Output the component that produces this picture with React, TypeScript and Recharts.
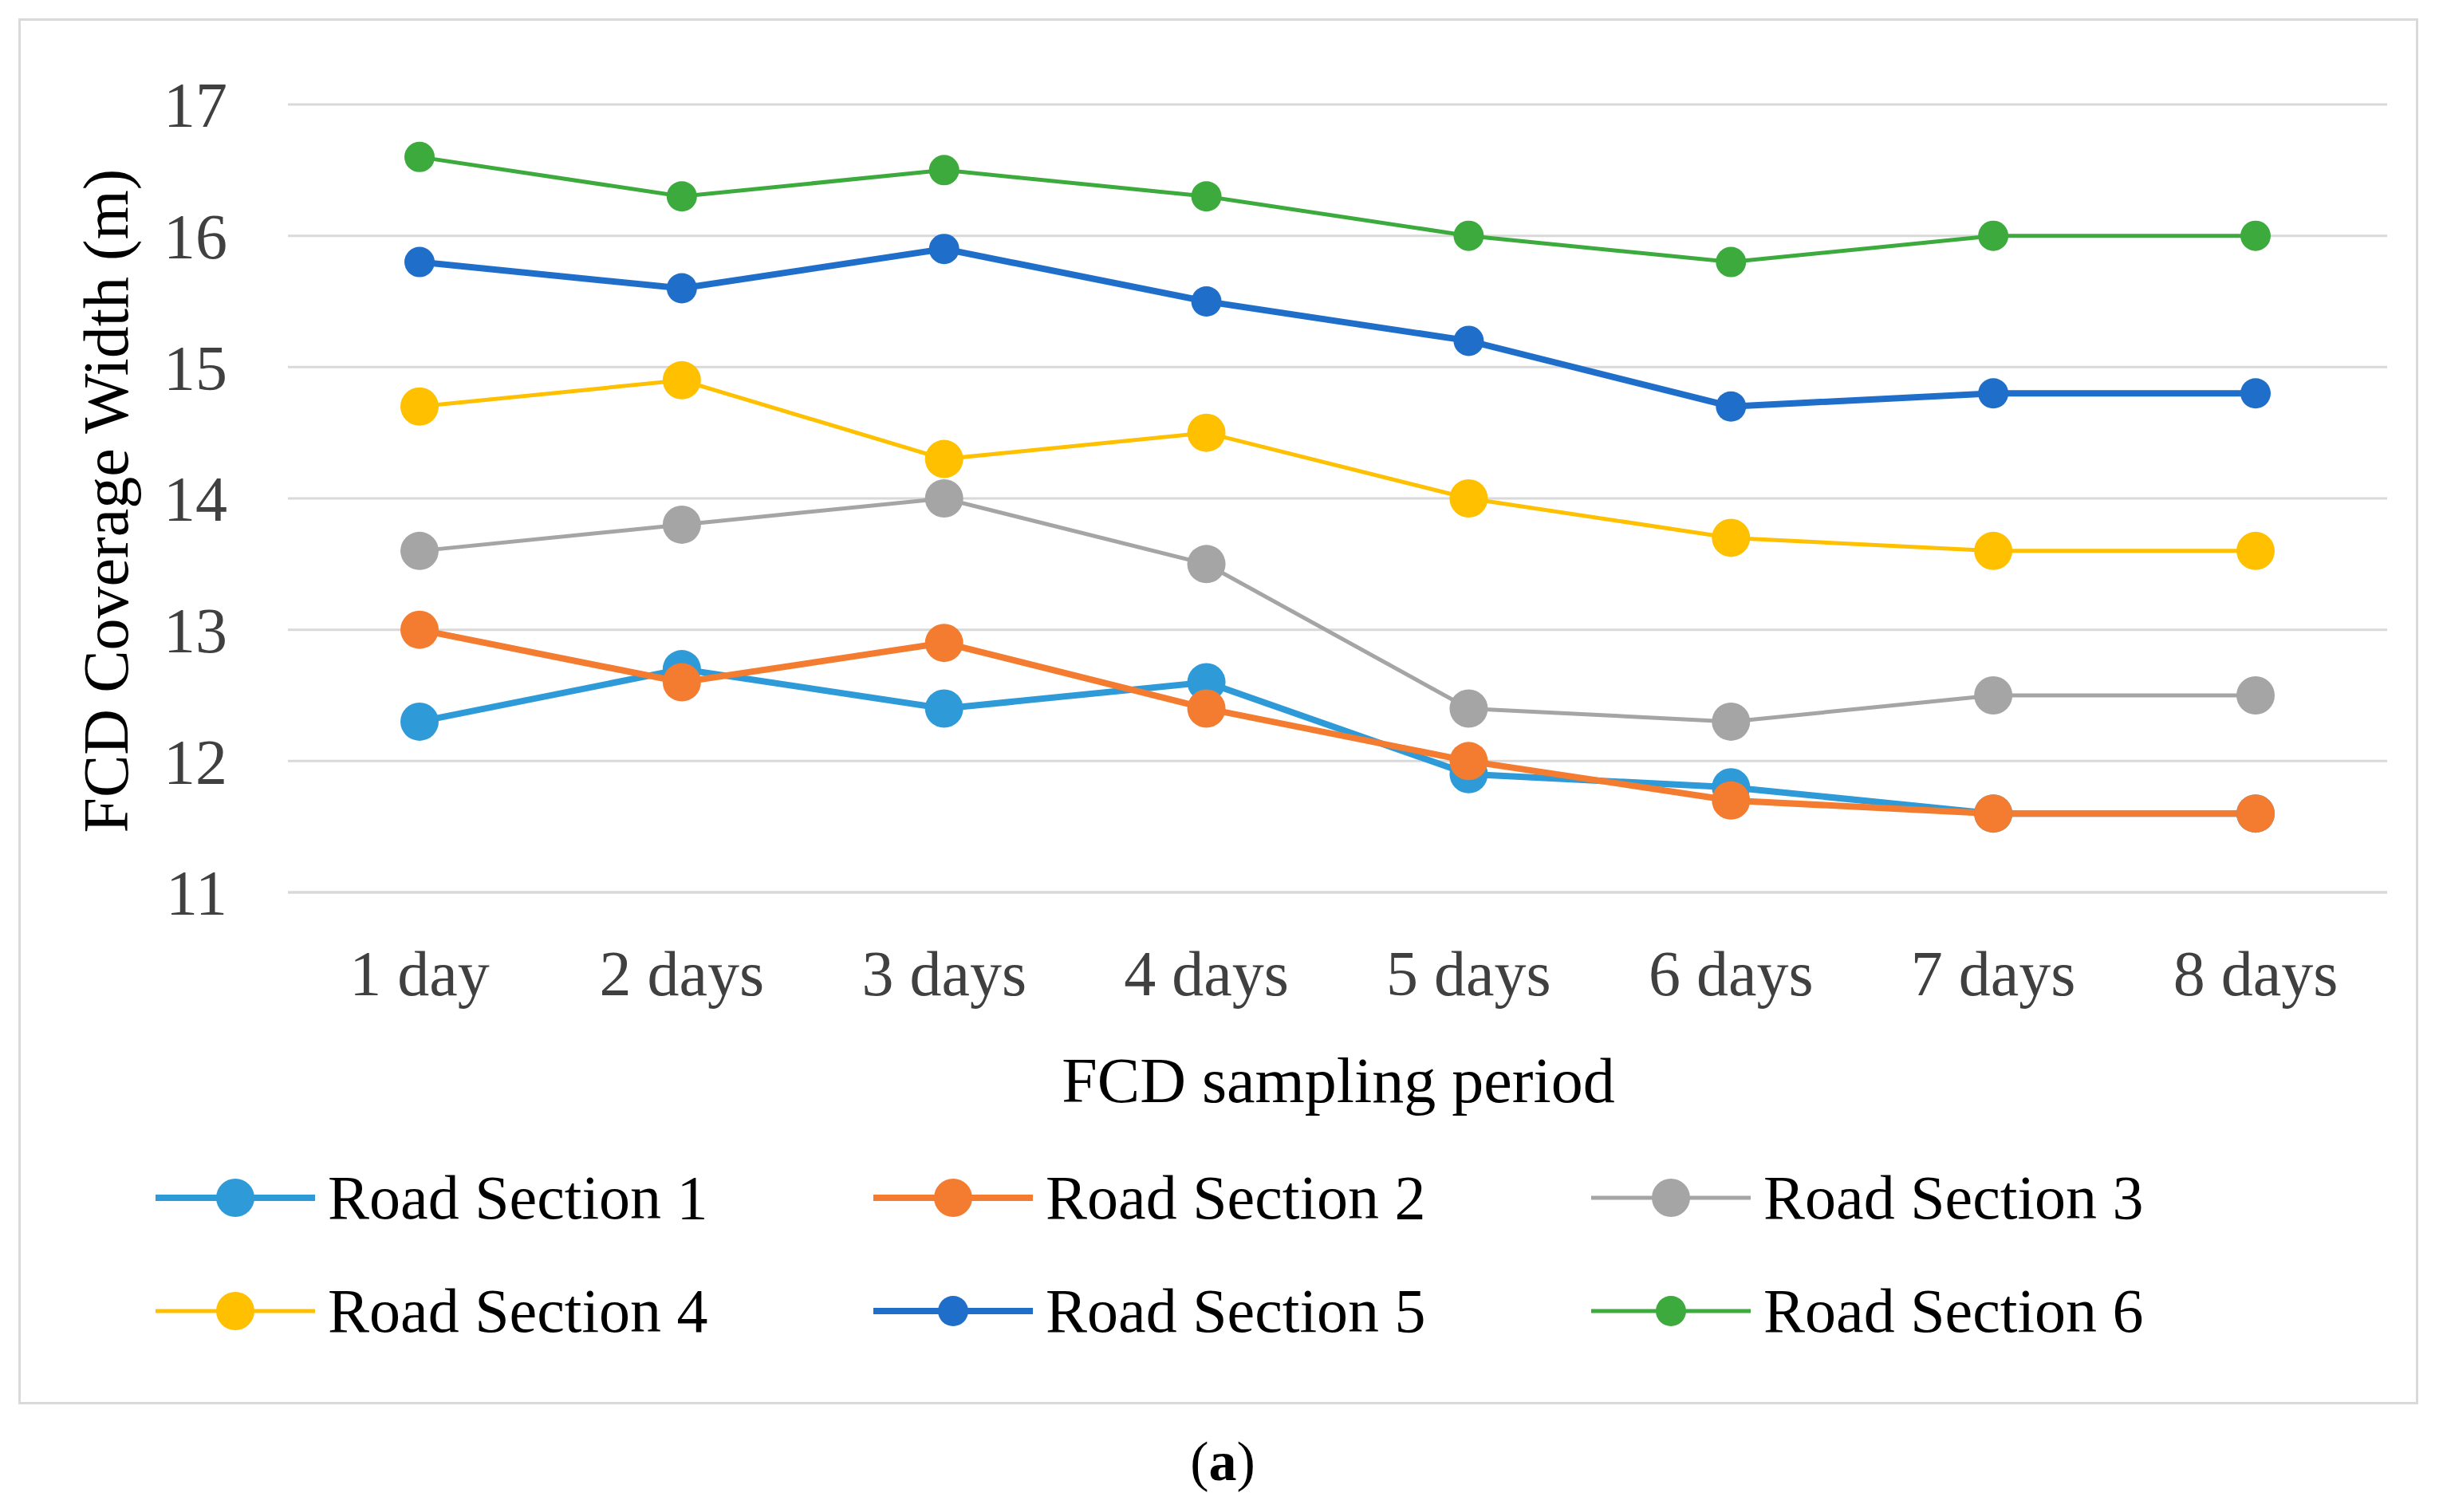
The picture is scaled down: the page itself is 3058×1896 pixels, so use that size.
import { CartesianGrid, Line, LineChart, XAxis, YAxis } from "recharts";

const PERIODS = ["1 day", "2 days", "3 days", "4 days", "5 days", "6 days", "7 days", "8 days"];
const Y_TICKS = [11, 12, 13, 14, 15, 16, 17];

const RS1 = [12.3, 12.7, 12.4, 12.6, 11.9, 11.8, 11.6, 11.6];
const RS2 = [13.0, 12.6, 12.9, 12.4, 12.0, 11.7, 11.6, 11.6];
const RS3 = [13.6, 13.8, 14.0, 13.5, 12.4, 12.3, 12.5, 12.5];
const RS4 = [14.7, 14.9, 14.3, 14.5, 14.0, 13.7, 13.6, 13.6];
const RS5 = [15.8, 15.6, 15.9, 15.5, 15.2, 14.7, 14.8, 14.8];
const RS6 = [16.6, 16.3, 16.5, 16.3, 16.0, 15.8, 16.0, 16.0];

const SERIES = [
  { key: "rs1", label: "Road Section 1", values: RS1, color: "#2E9BD8", width: 8, r: 24 },
  { key: "rs2", label: "Road Section 2", values: RS2, color: "#F47C30", width: 8, r: 24 },
  { key: "rs3", label: "Road Section 3", values: RS3, color: "#A5A5A5", width: 5, r: 24 },
  { key: "rs4", label: "Road Section 4", values: RS4, color: "#FFC000", width: 5, r: 24 },
  { key: "rs5", label: "Road Section 5", values: RS5, color: "#1F6FCA", width: 8, r: 19 },
  { key: "rs6", label: "Road Section 6", values: RS6, color: "#3DAA3D", width: 5, r: 19 },
];

const data = PERIODS.map((p, i) => {
  const row: Record<string, number | string> = { period: p };
  SERIES.forEach((s) => (row[s.key] = s.values[i]));
  return row;
});

const FONT = "'Liberation Serif', 'Times New Roman', serif";
const GRID = "#D9D9D9";

export default function App() {
  return (
    <div style={{ position: "relative", width: 3042, height: 1880, fontFamily: FONT, background: "#fff" }}>
      <div
        style={{
          position: "absolute", left: 15, top: 15, width: 3009, height: 1738,
          border: `3px solid ${GRID}`, boxSizing: "border-box",
        }}
      />
      <div style={{ position: "absolute", left: 0, top: 0 }}>
        <LineChart width={3042} height={1400} data={data} margin={{ top: 123, right: 57, left: 0, bottom: 89 }}>
          <CartesianGrid stroke={GRID} strokeWidth={3} vertical={false} />
          <XAxis
            dataKey="period"
            tick={{ fill: "#404040", fontSize: 80, fontFamily: FONT }}
            tickLine={false}
            axisLine={{ stroke: GRID, strokeWidth: 3 }}
            tickMargin={66}
            height={200}
            interval={0}
            padding={{ left: 165, right: 165 }}
          />
          <YAxis
            domain={[11, 17]}
            ticks={Y_TICKS}
            tick={{ fill: "#404040", fontSize: 80, fontFamily: FONT }}
            tickLine={false}
            axisLine={false}
            tickMargin={70}
            width={353}
          />
          {SERIES.map((s) => (
            <Line
              key={s.key}
              dataKey={s.key}
              name={s.label}
              type="linear"
              stroke={s.color}
              strokeWidth={s.width}
              dot={{ r: s.r, fill: s.color, stroke: "none" }}
              isAnimationActive={false}
            />
          ))}
        </LineChart>
      </div>
      <div
        style={{
          position: "absolute", left: 125, top: 620, transform: "translate(-50%, -50%) rotate(-90deg)",
          fontSize: 80, color: "#000", whiteSpace: "nowrap",
        }}
      >
        FCD Coverage Width (m)
      </div>
      <div
        style={{
          position: "absolute", left: 1670, top: 1347, transform: "translate(-50%, -50%)",
          fontSize: 80, color: "#000", whiteSpace: "nowrap",
        }}
      >
        FCD sampling period
      </div>
      {SERIES.map((s, i) => {
        const col = i % 3;
        const row = Math.floor(i / 3);
        const x = 187 + col * 900;
        const y = 1494 + row * 142;
        return (
          <div key={s.key} style={{ position: "absolute", left: x, top: y - 50, height: 100, display: "flex", alignItems: "center" }}>
            <svg width={200} height={60}>
              <line x1={0} y1={30} x2={200} y2={30} stroke={s.color} strokeWidth={s.width} />
              <circle cx={100} cy={30} r={s.r} fill={s.color} />
            </svg>
            <span style={{ fontSize: 78, color: "#000", marginLeft: 16, whiteSpace: "nowrap" }}>{s.label}</span>
          </div>
        );
      })}
      <div
        style={{
          position: "absolute", left: 1525, top: 1825, transform: "translate(-50%, -50%)",
          fontSize: 70, fontFamily: "'Liberation Serif', serif", whiteSpace: "nowrap",
        }}
      >
        (<b>a</b>)
      </div>
    </div>
  );
}
